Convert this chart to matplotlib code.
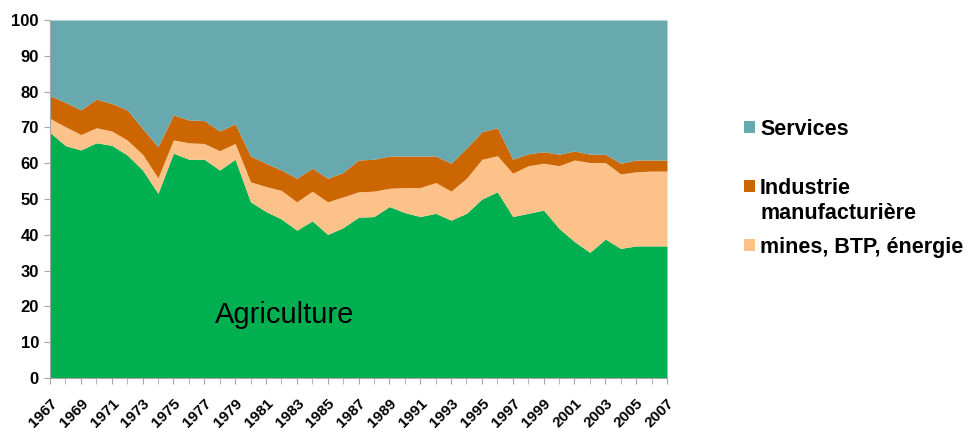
import numpy as np
import matplotlib
matplotlib.use("Agg")
import matplotlib.pyplot as plt
from matplotlib.patches import Rectangle
from matplotlib.transforms import ScaledTranslation

plt.rcParams['font.family'] = ['Liberation Sans', 'DejaVu Sans']

# --- data (share of employment, %, stacked) ---
years = list(range(1967, 2008))

agriculture = [68.6, 64.9, 63.7, 65.7, 65.0, 62.3, 58.1, 51.6, 62.8, 61.1,
               61.1, 58.1, 61.1, 49.2, 46.5, 44.4, 41.3, 43.9, 40.1, 42.0,
               44.9, 45.1, 47.9, 46.2, 45.1, 46.0, 44.1, 46.0, 50.0, 52.0,
               45.1, 46.0, 46.9, 41.8, 38.1, 35.1, 38.8, 36.2, 36.9, 36.9, 36.9]

# cumulative top of "mines, BTP, énergie"
mines_top = [72.5, 70.2, 68.0, 69.9, 69.0, 66.5, 62.5, 55.9, 66.5, 65.7,
             65.5, 63.5, 65.5, 54.8, 53.5, 52.4, 49.2, 52.2, 49.2, 50.6,
             52.0, 52.2, 53.0, 53.2, 53.2, 54.6, 52.2, 55.8, 61.1, 62.1,
             57.2, 59.3, 60.0, 59.3, 60.9, 60.2, 60.2, 57.0, 57.6, 57.8, 57.8]

# cumulative top of "Industrie manufacturière"
industrie_top = [78.9, 77.0, 74.9, 77.9, 76.7, 74.9, 69.7, 64.6, 73.5, 72.1,
                 71.9, 69.0, 71.0, 62.0, 60.0, 58.1, 55.8, 58.6, 55.8, 57.4,
                 60.9, 61.1, 62.0, 62.0, 62.0, 62.0, 60.0, 64.2, 68.8, 69.9,
                 61.1, 62.6, 63.2, 62.5, 63.4, 62.5, 62.5, 60.0, 60.9, 60.9, 60.9]

services_top = [100] * len(years)

labels = ["Services", "Industrie\nmanufacturière", "mines, BTP, énergie"]
col_services = "#67A9AF"
col_industrie = "#CC6600"
col_mines = "#FDC289"
col_agri = "#00AF50"

x = np.array(years)
agri = np.array(agriculture)
mines = np.array(mines_top)
ind = np.array(industrie_top)
serv = np.array(services_top)

fig = plt.figure(figsize=(9.71, 4.30), dpi=100)
ax = fig.add_axes([50 / 971, 1 - 378 / 430, 617 / 971, 358 / 430])

ax.fill_between(x, 0, agri, color=col_agri, lw=0)
ax.fill_between(x, agri, mines, color=col_mines, lw=0)
ax.fill_between(x, mines, ind, color=col_industrie, lw=0)
ax.fill_between(x, ind, serv, color=col_services, lw=0)

ax.set_xlim(1967, 2007)
ax.set_ylim(0, 100)
ax.set_yticks(range(0, 101, 10))
ax.set_xticks(years, minor=True)
ax.set_xticks(years[::2])
ax.set_xticklabels([str(y) for y in years[::2]], rotation=45, ha='right',
                   va='top', rotation_mode='anchor', fontsize=11, fontweight='bold')
offset = ScaledTranslation(0.05, 0, fig.dpi_scale_trans)
for lab in ax.get_xticklabels():
    lab.set_transform(lab.get_transform() + offset)
for lab in ax.get_yticklabels():
    lab.set_fontsize(12)
    lab.set_fontweight('bold')

for s in ['top', 'right']:
    ax.spines[s].set_visible(False)
for s in ['left', 'bottom']:
    ax.spines[s].set_color('#A6A6A6')
ax.tick_params(axis='both', which='both', color='#A6A6A6', direction='out')
ax.tick_params(axis='y', length=4, pad=4)
ax.tick_params(axis='x', which='both', length=4, pad=9)

ax.text(0.381, 0.176, "Agriculture", transform=ax.transAxes, ha='center',
        va='center', fontsize=21, color='black')

# legend drawn by hand (uneven spacing in the original)
leg = [(labels[0], col_services, 127), (labels[1], col_industrie, 186),
       (labels[2], col_mines, 245)]
for text, c, ypx in leg:
    fig.add_artist(Rectangle((744 / 971, 1 - (ypx + 6) / 430), 11 / 971, 12 / 430,
                             transform=fig.transFigure, color=c, lw=0))
    fig.text(760 / 971, 1 - (ypx - 8) / 430, text, ha='left', va='top',
             fontsize=15.5, fontweight='bold', linespacing=1.25)

fig.savefig("out.png", dpi=100)
